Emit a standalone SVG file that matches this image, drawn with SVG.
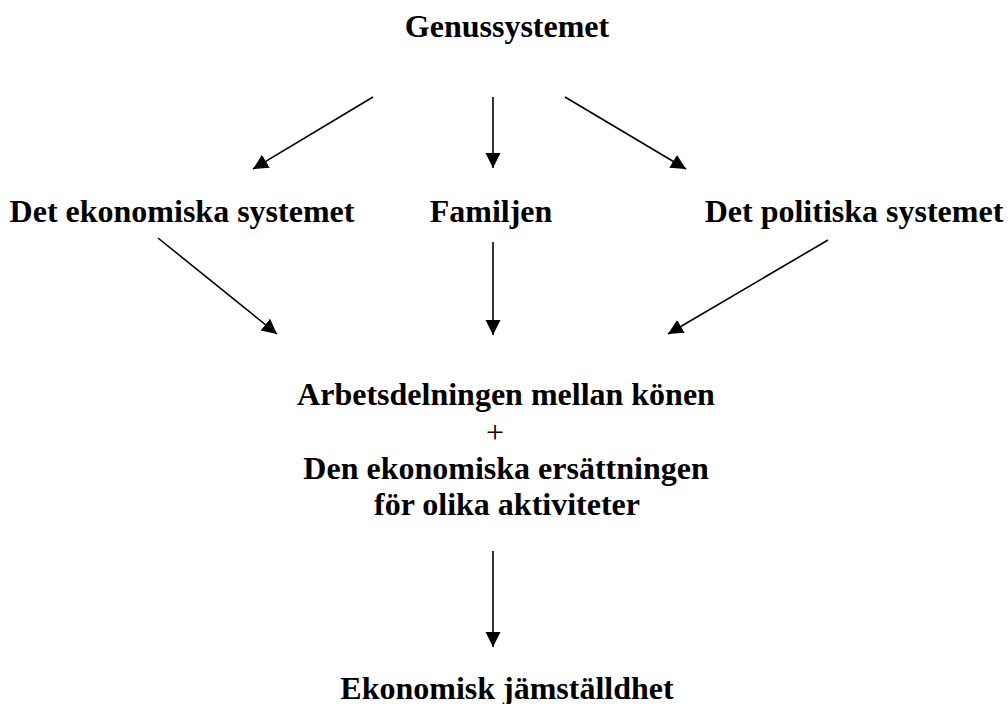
<svg xmlns="http://www.w3.org/2000/svg" width="1008" height="704" viewBox="0 0 1008 704">
<style>
.t{font-family:"Liberation Serif","Times New Roman",serif;font-size:32px;font-weight:bold;fill:#000;text-anchor:middle}
.p{font-family:"Liberation Serif","Times New Roman",serif;font-size:32px;font-weight:normal;fill:#000;text-anchor:middle}
.c{stroke:#000;stroke-width:1.6;fill:none;marker-end:url(#ah)}
</style>
<defs>
<marker id="ah" markerUnits="userSpaceOnUse" markerWidth="16" markerHeight="16" refX="15" refY="7.5" orient="auto">
<path d="M0,0 L15,7.5 L0,15 z" fill="#000"/>
</marker>
</defs>
<rect width="1008" height="704" fill="#fff"/>
<g id="genussystemet"><text class="t" x="507" y="37">Genussystemet</text></g>
<g id="ekonomiska"><text class="t" x="182" y="222">Det ekonomiska systemet</text></g>
<g id="familjen"><text class="t" x="491" y="222">Familjen</text></g>
<g id="politiska"><text class="t" x="854" y="222">Det politiska systemet</text></g>
<g id="arbetsdelningen">
<text class="t" x="506" y="405">Arbetsdelningen mellan könen</text>
<text class="p" x="495" y="443">+</text>
<text class="t" x="506" y="479">Den ekonomiska ersättningen</text>
<text class="t" x="507" y="515">för olika aktiviteter</text>
</g>
<g id="jamstalldhet"><text class="t" x="507" y="699">Ekonomisk jämställdhet</text></g>
<g id="connectors">
<line class="c" x1="373" y1="97" x2="253" y2="169"/>
<line class="c" x1="493" y1="97" x2="493" y2="168"/>
<line class="c" x1="565" y1="97" x2="686" y2="169"/>
<line class="c" x1="158" y1="238" x2="277" y2="334"/>
<line class="c" x1="493" y1="242" x2="493" y2="335"/>
<line class="c" x1="828" y1="240" x2="668" y2="334"/>
<line class="c" x1="493" y1="551" x2="493" y2="647"/>
</g>
</svg>
